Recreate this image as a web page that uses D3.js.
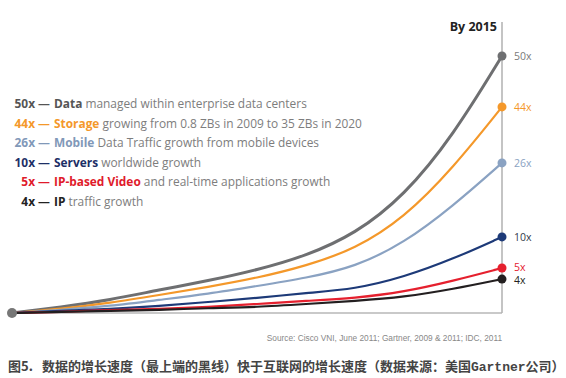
<!DOCTYPE html>
<html>
<head>
<meta charset="utf-8">
<script src="https://cdn.jsdelivr.net/npm/d3@7"></script>
<style>
  body { margin: 0; background: #fff; }
  svg { display: block; }
</style>
</head>
<body>
<svg width="566" height="378"></svg>
<script>
// Years along the curve (start to 2015)
const years = [2010, 2010.5, 2011, 2011.5, 2012, 2012.5, 2013, 2013.5, 2014, 2014.5, 2015];

// Relative level of each curve (0 = start, 100 = top of the Data curve)
const dataValues    = [0, 2.3, 5.1, 9.0, 12.5, 16.7, 22.2, 30.7, 45.5, 68.9, 100];
const storageValues = [0, 1.6, 3.9, 7.0, 10.1, 13.6, 18.3, 24.9, 37.0, 56.4, 80.2];
const mobileValues  = [0, 1.2, 2.7, 5.1, 7.4, 10.5, 13.6, 17.9, 27.2, 41.6, 58.4];
const serverValues  = [0, 0.8, 1.6, 2.7, 4.3, 5.8, 7.8, 9.3, 14.0, 21.0, 29.6];
const videoValues   = [0, 0.4, 1.2, 1.6, 2.3, 3.5, 4.7, 5.8, 8.2, 12.5, 17.5];
const ipValues      = [0, 0.4, 0.8, 1.2, 1.9, 2.3, 3.5, 4.7, 6.2, 9.3, 13.2];

const growthLabels = ["50x", "44x", "26x", "10x", "5x", "4x"];
const leadWords = ["Data", "Storage", "Mobile", "Servers", "IP-based Video", "IP"];
const restWords = [
    "managed within enterprise data centers",
    "growing from 0.8 ZBs in 2009 to 35 ZBs in 2020",
    "Data Traffic growth from mobile devices",
    "worldwide growth",
    "and real-time applications growth",
    "traffic growth"
];
const lineColors = ["#6e6f71", "#f4982a", "#8aa2c2", "#1d3a78", "#e5202e", "#231f20"];
const labelColors = ["#7a7a7a", "#f4982a", "#8aa2c2", "#333a4a", "#e5202e", "#231f20"];
const legendColors = ["#555", "#f4982a", "#8198b8", "#1d2f66", "#e01b2b", "#222"];

const allValues = [dataValues, storageValues, mobileValues, serverValues, videoValues, ipValues];
const series = allValues.map((vals, i) => ({
    label: growthLabels[i],
    points: years.map((yr, j) => ({ year: yr, v: vals[j] }))
}));

const svg = d3.select("svg");

const x = d3.scaleLinear().domain([2010, 2015]).range([12, 502]);
const y = d3.scaleLinear().domain([0, 100]).range([313, 56]);

// baseline and right-hand axis
svg.append("line")
    .attr("x1", x(2010)).attr("x2", x(2015))
    .attr("y1", y(0)).attr("y2", y(0))
    .attr("stroke", "#c9c9c9").attr("stroke-width", 2);

svg.append("line")
    .attr("x1", x(2015)).attr("x2", x(2015))
    .attr("y1", 22).attr("y2", y(0))
    .attr("stroke", "#b0b0b0").attr("stroke-width", 1.5);

svg.append("text")
    .attr("x", x(2015) - 5).attr("y", 31)
    .attr("text-anchor", "end")
    .attr("font-family", "'Open Sans', sans-serif")
    .attr("font-weight", "bold")
    .attr("font-size", 12.5)
    .attr("fill", "#222")
    .text("By 2015");

const line = d3.line()
    .x(d => x(d.year))
    .y(d => y(d.v))
    .curve(d3.curveBasis);

svg.selectAll(".curve")
    .data(series)
    .enter().append("path")
    .attr("class", "curve")
    .attr("d", d => line(d.points))
    .attr("fill", "none")
    .attr("stroke", (d, i) => lineColors[i])
    .attr("stroke-width", (d, i) => i === 0 ? 3 : 2.2);

// start dot
svg.append("circle")
    .attr("cx", x(2010)).attr("cy", y(0)).attr("r", 5)
    .attr("fill", "#777");

// end dots
svg.selectAll(".enddot")
    .data(series)
    .enter().append("circle")
    .attr("class", "enddot")
    .attr("cx", d => x(d.points[d.points.length - 1].year))
    .attr("cy", d => y(d.points[d.points.length - 1].v))
    .attr("r", 4.5)
    .attr("fill", (d, i) => lineColors[i]);

svg.selectAll(".endlabel")
    .data(series)
    .enter().append("text")
    .attr("class", "endlabel")
    .attr("x", x(2015) + 12)
    .attr("y", (d, i) => y(d.points[d.points.length - 1].v) + (i === 4 ? 2.5 : i === 5 ? 5 : 4))
    .attr("font-family", "'Open Sans', sans-serif")
    .attr("font-size", 10.5)
    .attr("fill", (d, i) => labelColors[i])
    .text(d => d.label);

// legend text block
const legend = svg.append("g")
    .attr("font-family", "'Open Sans', sans-serif")
    .attr("font-size", 11.9);

growthLabels.forEach((lab, i) => {
    legend.append("text")
        .attr("x", 50)
        .attr("y", 108 + i * 19.6)
        .attr("text-anchor", "end")
        .attr("font-weight", "bold")
        .attr("fill", legendColors[i])
        .text(lab + " \u2014");
    const t2 = legend.append("text")
        .attr("x", 54)
        .attr("y", 108 + i * 19.6);
    t2.append("tspan")
        .attr("font-weight", "bold")
        .attr("fill", legendColors[i])
        .text(leadWords[i]);
    t2.append("tspan")
        .attr("fill", "#7d7d7d")
        .text(" " + restWords[i]);
});

svg.append("text")
    .attr("x", 502).attr("y", 341)
    .attr("text-anchor", "end")
    .attr("font-family", "'Liberation Sans', Arial, sans-serif")
    .attr("font-size", 8.3)
    .attr("fill", "#888")
    .text("Source: Cisco VNI, June 2011; Gartner, 2009 & 2011; IDC, 2011");

const caption = svg.append("text")
    .attr("x", 8).attr("y", 371)
    .attr("font-family", "'Noto Sans CJK SC', sans-serif")
    .attr("font-weight", "bold")
    .attr("font-size", 13)
    .attr("fill", "#444");
caption.append("tspan").text("图5.");
caption.append("tspan").attr("dx", 9).text("数据的增长速度（最上端的黑线）快于互联网的增长速度（数据来源：美国");
caption.append("tspan").attr("font-family", "'Liberation Mono', monospace").text("Gartner");
caption.append("tspan").text("公司）");
</script>
</body>
</html>
